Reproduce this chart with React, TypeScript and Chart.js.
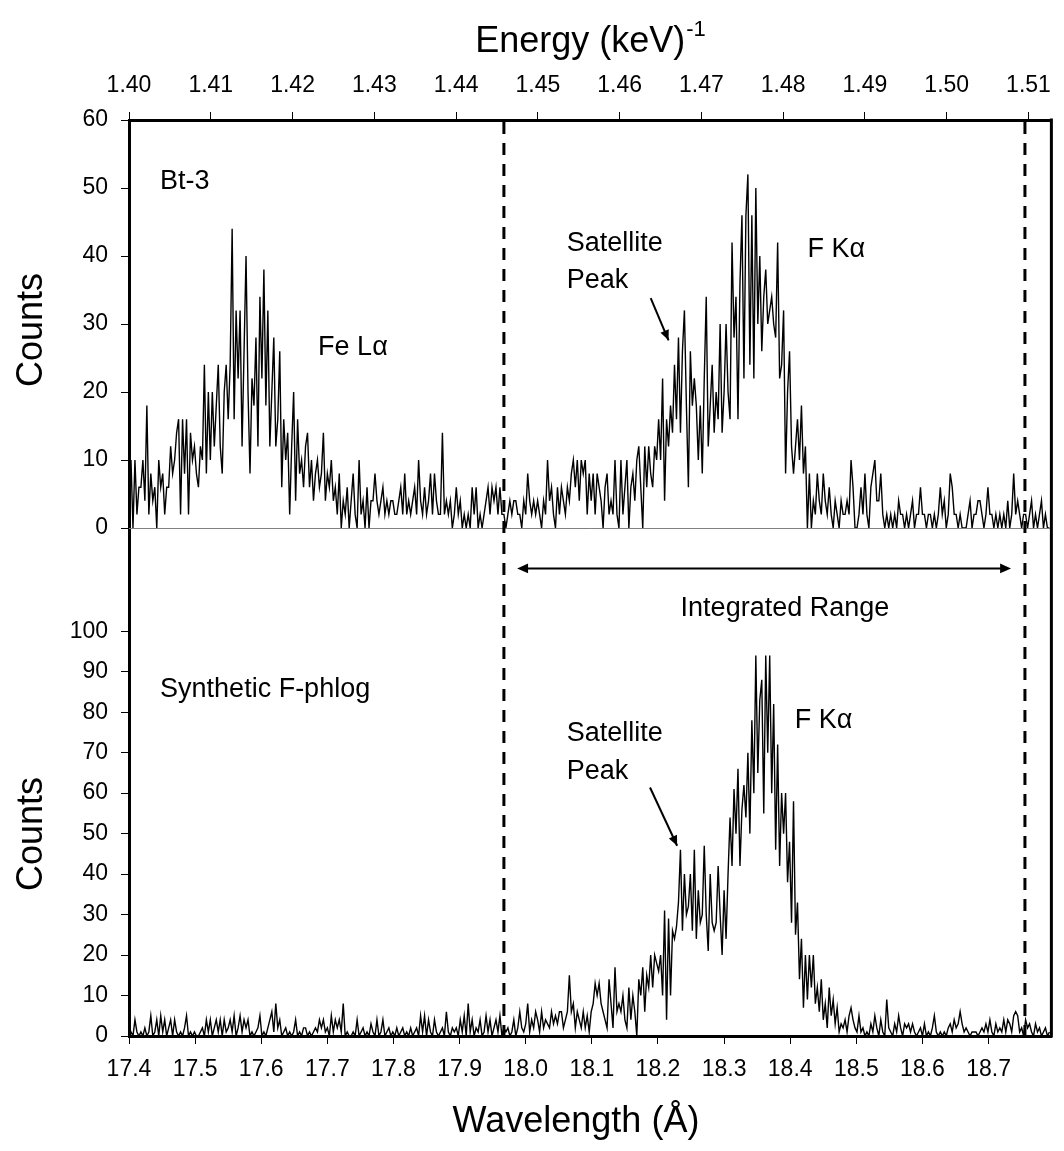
import { useEffect, useRef } from 'react';
import { Chart, registerables } from 'chart.js';

Chart.register(...registerables);

// ---- data -----------------------------------------------------------
const WAVELENGTH_START = 17.4;
const WAVELENGTH_STEP = 0.003;

// Bt-3 spectrum (counts), one value per wavelength step
const bt3Counts = [
  6, 10, 0, 10, 2, 6, 6, 10, 4, 18, 2, 8, 4, 6, 0, 10, 6, 8, 2, 6,
  6, 12, 8, 10, 14, 16, 2, 16, 8, 16, 2, 14, 10, 12, 8, 6, 12, 10, 24, 8,
  20, 10, 20, 12, 18, 24, 12, 8, 20, 24, 16, 24, 44, 16, 32, 22, 32, 12, 26, 40,
  20, 8, 22, 18, 28, 12, 34, 22, 38, 18, 32, 12, 20, 28, 12, 16, 26, 6, 16, 10,
  14, 2, 12, 20, 4, 16, 8, 10, 6, 12, 14, 6, 10, 4, 8, 10, 6, 8, 14, 4,
  8, 6, 10, 4, 6, 2, 8, 0, 4, 2, 6, 0, 4, 8, 2, 0, 10, 2, 4, 0,
  6, 0, 4, 4, 8, 4, 2, 4, 6, 2, 4, 2, 4, 4, 2, 2, 4, 6, 2, 8,
  2, 4, 2, 4, 6, 2, 10, 4, 2, 6, 2, 4, 8, 2, 8, 4, 2, 2, 14, 2,
  4, 2, 4, 0, 2, 6, 2, 4, 0, 2, 0, 2, 0, 6, 2, 6, 0, 2, 0, 2,
  4, 6, 2, 6, 4, 6, 2, 6, 2, 2, 0, 2, 4, 2, 4, 4, 2, 2, 0, 4,
  2, 8, 4, 2, 4, 2, 4, 2, 0, 4, 2, 10, 4, 6, 2, 0, 6, 2, 6, 4,
  2, 6, 4, 8, 10, 6, 10, 4, 10, 8, 10, 2, 8, 4, 8, 2, 8, 6, 4, 0,
  6, 8, 2, 4, 2, 10, 2, 0, 10, 2, 6, 10, 0, 6, 8, 4, 10, 12, 6, 0,
  12, 6, 12, 8, 6, 12, 10, 16, 10, 22, 4, 16, 12, 18, 14, 24, 16, 28, 14, 26,
  32, 18, 6, 26, 18, 22, 18, 10, 18, 8, 22, 34, 12, 18, 24, 14, 20, 16, 30, 14,
  20, 30, 20, 16, 42, 28, 34, 16, 36, 46, 22, 46, 52, 24, 46, 22, 50, 30, 40, 26,
  34, 38, 30, 32, 34, 30, 28, 42, 22, 24, 32, 8, 20, 26, 12, 8, 12, 16, 10, 18,
  8, 12, 0, 8, 0, 4, 2, 8, 4, 2, 8, 4, 2, 6, 2, 0, 4, 2, 0, 4,
  2, 2, 4, 2, 10, 6, 0, 0, 2, 6, 2, 8, 2, 0, 6, 8, 10, 4, 4, 8,
  2, 0, 2, 0, 2, 0, 2, 0, 4, 2, 2, 0, 2, 0, 2, 4, 0, 2, 2, 6,
  2, 2, 0, 2, 2, 0, 2, 0, 2, 6, 2, 4, 0, 2, 8, 6, 2, 2, 0, 2,
  0, 0, 0, 2, 4, 0, 2, 2, 4, 4, 2, 0, 2, 6, 2, 2, 0, 2, 0, 2,
  0, 2, 0, 4, 0, 2, 8, 2, 4, 2, 0, 2, 2, 0, 2, 4, 0, 2, 0, 2,
  4, 0, 2, 0, 0,
];

// Synthetic F-phlogopite spectrum (counts)
const synthCounts = [
  0, 1, 0, 4, 1, 0, 1, 0, 2, 0, 1, 5, 0, 1, 4, 0, 5, 1, 4, 0,
  2, 4, 0, 4, 1, 0, 1, 0, 2, 5, 0, 1, 0, 1, 0, 0, 1, 2, 0, 4,
  1, 4, 0, 2, 4, 1, 4, 0, 4, 1, 2, 4, 1, 5, 0, 2, 5, 1, 4, 2,
  4, 0, 1, 0, 1, 2, 5, 0, 1, 0, 2, 4, 6, 1, 8, 2, 4, 0, 1, 2,
  0, 1, 0, 1, 4, 0, 1, 0, 2, 2, 0, 1, 0, 1, 2, 1, 4, 2, 4, 1,
  2, 0, 5, 1, 4, 2, 4, 1, 8, 0, 1, 0, 0, 1, 0, 4, 0, 1, 2, 0,
  1, 0, 3, 1, 0, 4, 0, 1, 4, 0, 1, 2, 0, 1, 0, 2, 0, 1, 2, 0,
  1, 0, 2, 0, 1, 2, 0, 5, 1, 5, 0, 4, 1, 0, 4, 1, 0, 1, 2, 0,
  6, 1, 0, 2, 1, 2, 0, 4, 1, 5, 0, 8, 1, 4, 0, 2, 1, 4, 0, 1,
  5, 1, 4, 0, 2, 4, 1, 5, 0, 2, 1, 2, 0, 1, 4, 0, 2, 6, 2, 1,
  3, 8, 1, 4, 2, 6, 4, 1, 6, 2, 4, 3, 2, 6, 3, 5, 3, 6, 6, 2,
  4, 6, 15, 6, 8, 2, 6, 4, 2, 6, 2, 5, 1, 6, 8, 13, 10, 13, 8, 6,
  4, 2, 14, 8, 2, 17, 6, 8, 6, 10, 4, 2, 12, 4, 10, 6, 0, 14, 10, 17,
  6, 15, 12, 20, 12, 20, 18, 16, 20, 10, 31, 4, 29, 10, 26, 24, 27, 33, 46, 26,
  40, 30, 32, 40, 26, 46, 24, 36, 28, 30, 47, 30, 21, 40, 28, 26, 28, 42, 30, 20,
  36, 24, 40, 54, 42, 61, 50, 66, 42, 56, 62, 54, 70, 50, 78, 60, 94, 65, 83, 88,
  55, 94, 70, 94, 60, 82, 46, 72, 42, 60, 50, 60, 38, 48, 28, 58, 25, 33, 14, 24,
  7, 20, 9, 20, 12, 20, 8, 12, 6, 14, 4, 8, 2, 12, 5, 9, 3, 7, 1, 3,
  2, 4, 1, 5, 7, 4, 2, 1, 5, 1, 2, 0, 1, 0, 3, 1, 5, 2, 0, 4,
  1, 0, 9, 2, 1, 0, 3, 1, 5, 2, 0, 3, 2, 3, 1, 3, 1, 0, 1, 2,
  0, 3, 0, 1, 0, 2, 5, 1, 0, 1, 0, 1, 0, 2, 3, 1, 4, 2, 3, 6,
  3, 1, 2, 1, 0, 1, 1, 1, 0, 1, 2, 1, 3, 1, 4, 1, 0, 3, 1, 2,
  1, 4, 1, 4, 3, 1, 5, 6, 5, 1, 2, 0, 4, 2, 3, 1, 0, 3, 1, 2,
  0, 1, 2, 0, 1,
];

const wavelengthTicks = [17.4, 17.5, 17.6, 17.7, 17.8, 17.9, 18.0, 18.1, 18.2, 18.3, 18.4, 18.5, 18.6, 18.7];
const energyTicks = [1.4, 1.41, 1.42, 1.43, 1.44, 1.45, 1.46, 1.47, 1.48, 1.49, 1.5, 1.51];
const topCountTicks = [0, 10, 20, 30, 40, 50, 60];
const bottomCountTicks = [0, 10, 20, 30, 40, 50, 60, 70, 80, 90, 100];
const integratedRange = [17.967, 18.755];

// ---- axis ranges & annotation placement ------------------------------
const X_MIN = 17.4;
const X_MAX = 18.795;
const E_MIN = 1.4;
const E_MAX = 1.5128;
const TOP_MAX = 60;
const BOTTOM_MAX = 125.5;

const topNotes = [
  { text: 'Bt-3', x: 17.447, y: 51 },
  { text: 'Fe Lα', x: 17.686, y: 26.5 },
  { text: 'Satellite', x: 18.062, y: 41.9 },
  { text: 'Peak', x: 18.062, y: 36.4 },
  { text: 'F Kα', x: 18.426, y: 41 },
];
const bottomNotes = [
  { text: 'Synthetic F-phlog', x: 17.447, y: 85.7 },
  { text: 'Satellite', x: 18.062, y: 74.6 },
  { text: 'Peak', x: 18.062, y: 65.4 },
  { text: 'F Kα', x: 18.407, y: 78 },
];
const topArrow = { x1: 18.189, y1: 33.8, x2: 18.216, y2: 27.6 };
const bottomArrow = { x1: 18.188, y1: 61.4, x2: 18.229, y2: 47 };
const rangeArrow = { x1: 17.987, x2: 18.734, y: 115.5 };
const rangeLabel = { text: 'Integrated Range', x: 18.392, y: 105.6 };

const FONT = '"Liberation Sans", Arial, Helvetica, sans-serif';

function arrowHead(ctx: CanvasRenderingContext2D, fx: number, fy: number, tx: number, ty: number, len: number) {
  const a = Math.atan2(ty - fy, tx - fx);
  const w = 0.42;
  ctx.beginPath();
  ctx.moveTo(tx, ty);
  ctx.lineTo(tx - len * Math.cos(a - w), ty - len * Math.sin(a - w));
  ctx.lineTo(tx - len * Math.cos(a + w), ty - len * Math.sin(a + w));
  ctx.closePath();
  ctx.fill();
}

const overlayPlugin = {
  id: 'overlay',
  beforeDatasetsDraw(chart: any) {
    const { ctx, chartArea } = chart;
    const y0 = Math.round(chart.scales.yTop.getPixelForValue(0)) + 0.5;
    ctx.save();
    ctx.strokeStyle = '#808080';
    ctx.lineWidth = 1;
    ctx.beginPath();
    ctx.moveTo(chartArea.left, y0);
    ctx.lineTo(chartArea.right, y0);
    ctx.stroke();
    ctx.restore();
  },
  afterDraw(chart: any) {
    const { ctx, chartArea } = chart;
    const xs = chart.scales.x;
    const yt = chart.scales.yTop;
    const yb = chart.scales.yBot;
    ctx.save();

    // right frame
    ctx.strokeStyle = '#000';
    ctx.lineWidth = 3;
    ctx.beginPath();
    ctx.moveTo(chartArea.right, chartArea.top - 1.5);
    ctx.lineTo(chartArea.right, chartArea.bottom + 1.5);
    ctx.stroke();

    // integration limits
    ctx.setLineDash([12, 9]);
    ctx.lineWidth = 3;
    integratedRange.forEach((v) => {
      const px = xs.getPixelForValue(v);
      ctx.beginPath();
      ctx.moveTo(px, chartArea.top + 2);
      ctx.lineTo(px, chartArea.bottom);
      ctx.stroke();
    });
    ctx.setLineDash([]);

    // arrows
    ctx.fillStyle = '#000';
    ctx.lineWidth = 2;
    const drawArrow = (a: any, ys: any) => {
      const fx = xs.getPixelForValue(a.x1), fy = ys.getPixelForValue(a.y1);
      const tx = xs.getPixelForValue(a.x2), ty = ys.getPixelForValue(a.y2);
      ctx.beginPath();
      ctx.moveTo(fx, fy);
      ctx.lineTo(tx, ty);
      ctx.stroke();
      arrowHead(ctx, fx, fy, tx, ty, 11);
    };
    drawArrow(topArrow, yt);
    drawArrow(bottomArrow, yb);
    {
      const l = xs.getPixelForValue(rangeArrow.x1);
      const r = xs.getPixelForValue(rangeArrow.x2);
      const y = yb.getPixelForValue(rangeArrow.y);
      ctx.beginPath();
      ctx.moveTo(l + 4, y);
      ctx.lineTo(r - 4, y);
      ctx.stroke();
      arrowHead(ctx, r, y, l, y, 12);
      arrowHead(ctx, l, y, r, y, 12);
    }

    // annotation text
    ctx.font = `27px ${FONT}`;
    ctx.textBaseline = 'middle';
    ctx.textAlign = 'left';
    topNotes.forEach((n) => ctx.fillText(n.text, xs.getPixelForValue(n.x), yt.getPixelForValue(n.y)));
    bottomNotes.forEach((n) => ctx.fillText(n.text, xs.getPixelForValue(n.x), yb.getPixelForValue(n.y)));
    ctx.textAlign = 'center';
    ctx.fillText(rangeLabel.text, xs.getPixelForValue(rangeLabel.x), yb.getPixelForValue(rangeLabel.y));

    // axis titles
    ctx.font = `36px ${FONT}`;
    ctx.textBaseline = 'alphabetic';
    const main = 'Energy (keV)';
    const sup = '-1';
    const mw = ctx.measureText(main).width;
    ctx.font = `22px ${FONT}`;
    const sw = ctx.measureText(sup).width;
    const cx = 590;
    const startX = cx - (mw + sw) / 2;
    ctx.font = `36px ${FONT}`;
    ctx.textAlign = 'left';
    ctx.fillText(main, startX, 52);
    ctx.font = `22px ${FONT}`;
    ctx.fillText(sup, startX + mw + 1, 36);

    ctx.font = `36px ${FONT}`;
    ctx.textAlign = 'center';
    ctx.textBaseline = 'middle';
    ctx.fillText('Wavelength (Å)', 576, 1122);

    const counts = (cy: number) => {
      ctx.save();
      ctx.translate(32, cy);
      ctx.rotate(-Math.PI / 2);
      ctx.fillText('Counts', 0, 0);
      ctx.restore();
    };
    counts(330);
    counts(834);

    ctx.restore();
  },
};

const tickFont = { family: FONT, size: 23 };
const axisGrid = { display: true, drawOnChartArea: false, drawTicks: true, tickLength: 8, tickWidth: 1, tickColor: '#000' };
const axisBorder = { display: true, color: '#000', width: 3 };

export default function App() {
  const canvasRef = useRef<HTMLCanvasElement | null>(null);

  useEffect(() => {
    const canvas = canvasRef.current;
    if (!canvas) return;
    const toPoints = (arr: number[]) => arr.map((v, i) => ({ x: WAVELENGTH_START + i * WAVELENGTH_STEP, y: v }));
    const chart = new Chart(canvas, {
      type: 'line',
      data: {
        datasets: [
          {
            label: 'Bt-3',
            data: toPoints(bt3Counts),
            xAxisID: 'x',
            yAxisID: 'yTop',
            borderColor: '#000',
            borderWidth: 1.4,
            pointRadius: 0,
            tension: 0,
            fill: false,
          },
          {
            label: 'Synthetic F-phlog',
            data: toPoints(synthCounts),
            xAxisID: 'x',
            yAxisID: 'yBot',
            borderColor: '#000',
            borderWidth: 1.4,
            pointRadius: 0,
            tension: 0,
            fill: false,
          },
        ],
      },
      options: {
        responsive: false,
        animation: false,
        devicePixelRatio: 1,
        events: [],
        layout: { padding: { left: 0, right: 5, top: 0, bottom: 0 } },
        plugins: { legend: { display: false }, tooltip: { enabled: false }, title: { display: false } },
        scales: {
          x: {
            type: 'linear',
            position: 'bottom',
            min: X_MIN,
            max: X_MAX,
            afterBuildTicks: (s: any) => { s.ticks = wavelengthTicks.map((v) => ({ value: v })); },
            afterFit: (s: any) => { s.height = 115; },
            ticks: { font: tickFont, color: '#000', padding: 12, autoSkip: false, maxRotation: 0, callback: (v: any) => Number(v).toFixed(1) },
            grid: axisGrid,
            border: axisBorder,
          },
          x2: {
            type: 'linear',
            position: 'top',
            min: E_MIN,
            max: E_MAX,
            afterBuildTicks: (s: any) => { s.ticks = energyTicks.map((v) => ({ value: v })); },
            afterFit: (s: any) => { s.height = 120; },
            ticks: { font: tickFont, color: '#000', padding: 13, autoSkip: false, maxRotation: 0, callback: (v: any) => Number(v).toFixed(2) },
            grid: axisGrid,
            border: axisBorder,
          },
          yBot: {
            type: 'linear',
            position: 'left',
            stack: 'panels',
            stackWeight: 508,
            min: 0,
            max: BOTTOM_MAX,
            afterBuildTicks: (s: any) => { s.ticks = bottomCountTicks.map((v) => ({ value: v })); },
            afterFit: (s: any) => { s.width = 129; },
            ticks: { font: tickFont, color: '#000', padding: 13, autoSkip: false, callback: (v: any) => String(v) },
            grid: axisGrid,
            border: axisBorder,
          },
          yTop: {
            type: 'linear',
            position: 'left',
            stack: 'panels',
            stackWeight: 408,
            min: 0,
            max: TOP_MAX,
            afterBuildTicks: (s: any) => { s.ticks = topCountTicks.map((v) => ({ value: v })); },
            afterFit: (s: any) => { s.width = 129; },
            ticks: { font: tickFont, color: '#000', padding: 13, autoSkip: false, callback: (v: any) => String(v) },
            grid: axisGrid,
            border: axisBorder,
          },
        },
      } as any,
      plugins: [overlayPlugin],
    });
    return () => chart.destroy();
  }, []);

  return (
    <div style={{ position: 'fixed', left: 0, top: 0, width: 1064, height: 1151, background: '#fff' }}>
      <canvas ref={canvasRef} width={1064} height={1151} style={{ display: 'block', width: 1064, height: 1151 }} />
    </div>
  );
}
